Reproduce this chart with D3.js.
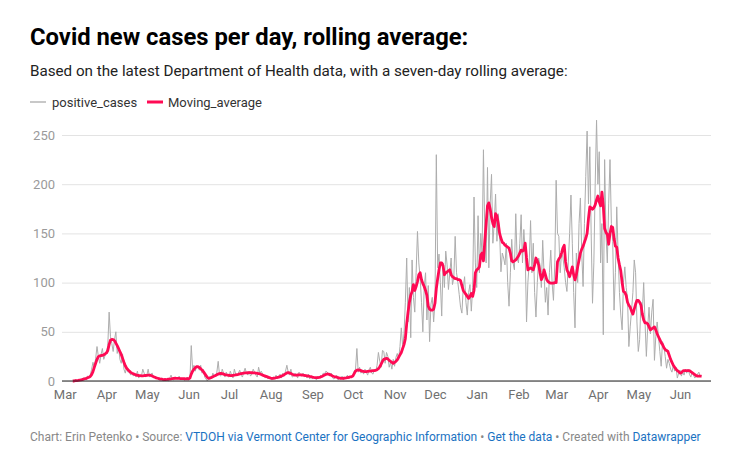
<!DOCTYPE html>
<html>
<head>
<meta charset="utf-8">
<script src="https://cdn.jsdelivr.net/npm/d3@7"></script>
<style>
  body { margin: 0; background: #fff; }
  svg { font-family: Roboto, "Noto Sans", sans-serif; }
</style>
</head>
<body>
<div id="viz"></div>
<script>
// one value per day, starting on firstDay
const firstDay = "2020-03-07"

const positiveCases = [
  1,0,2,0,1,1,2,2,3,3,1,5,4,6,12,19,14,23,35,25,18,27,33,22,26,
  29,36,70,45,38,30,42,50,28,35,22,18,27,12,8,14,9,10,6,8,5,7,4,10,3,6,5,12,8,4,
  6,12,4,7,8,3,5,2,4,1,2,3,0,1,2,1,0,3,6,2,1,4,3,2,5,1,3,2,1,2,4,
  1,2,36,12,16,10,15,14,11,16,8,12,4,2,0,3,5,2,8,6,4,9,20,6,5,12,8,4,9,5,
  4,10,6,3,12,7,5,8,11,6,4,9,13,8,6,10,5,7,12,9,6,4,14,8,10,7,5,3,6,2,4,
  2,1,4,3,6,2,5,7,3,8,5,10,16,9,6,12,4,5,8,6,3,9,7,5,8,4,6,3,7,2,5,
  2,4,3,1,5,3,6,4,8,7,10,9,6,5,8,3,2,4,6,1,3,2,5,1,4,3,6,2,5,4,
  6,10,12,33,9,14,8,10,7,12,9,6,11,14,8,7,12,10,16,29,20,14,31,30,18,29,25,14,19,12,22,
  15,24,28,22,35,54,35,48,80,125,60,95,44,123,85,70,110,152,120,105,80,50,95,110,62,97,40,78,85,60,
  80,230,115,129,100,66,120,95,132,118,93,110,125,98,105,147,110,100,88,75,69,95,106,80,67,90,98,71,95,187,120,
  95,168,110,150,130,235,150,120,217,115,180,210,140,160,190,142,170,150,111,130,125,118,140,100,76,110,144,120,113,170,125,
  120,140,169,120,154,130,60,100,120,163,110,140,90,65,100,125,118,95,143,110,80,95,67,110,133,100,82,120,
  204,150,147,110,130,126,115,100,91,120,150,189,140,90,54,130,100,160,186,130,96,160,208,254,180,238,150,79,120,200,265,
  200,233,120,160,47,225,150,120,180,225,160,142,72,110,177,130,90,67,52,100,116,95,84,35,55,72,90,123,110,60,
  30,42,80,70,100,60,25,55,75,48,70,83,21,45,60,45,30,15,40,35,25,13,22,18,12,9,16,10,14,3,8,
  11,5,9,6,12,8,12,7,4,9,6,3,5,7,9,4,6
]

const movingAverage = [
  0,0,0.3,0.4,0.6,0.9,1.1,1.4,1.9,2.3,2.7,3.3,3.9,4.6,6.5,9.5,14,18,22,24.7,25.6,25.9,26,26.7,27.5,
  28.5,31,37,41.5,42.3,42,41,38.5,36,33,30,27,23,19,15.5,13,11.5,10,8.8,8,7.3,6.7,6.2,5.8,5.6,5.5,5.3,5.2,5.4,5.6,
  5.8,6,6,5.7,5,4.4,3.8,3.2,2.8,2.4,2,1.8,1.6,1.5,1.5,1.6,1.8,2,2.2,2.5,2.7,2.8,2.7,2.6,2.6,2.5,2.5,2.4,2.3,2.2,2.3,
  2.3,3,7,10,12,13.5,14.5,14.6,13.8,12.5,11,9.5,7.5,5.5,3.5,2.7,3,3.5,4.2,5,5.6,6.3,7,7.6,7.8,7.5,7,6.5,6.2,6,
  5.8,5.6,5.5,5.8,6,6.2,6.5,6.8,7.2,7.5,7.8,8,8.2,8.3,8.4,8.5,8.5,8.4,8.3,8.2,8,7.8,7.6,7.2,6.6,6,5.4,4.9,4.4,3.9,3.4,
  3,2.7,2.8,3,3.3,3.6,4,4.5,5,5.6,6.4,7.3,8.2,8.5,8.2,7.5,6.8,6.3,6,6,6.1,6.2,6.2,6.1,6,5.8,5.5,5.2,4.9,4.6,4.4,
  4,3.7,3.5,3.4,3.4,3.6,4,4.6,5.3,6,6.7,7.1,7,6.5,5.8,5.1,4.6,4.2,3.8,3.4,3,2.8,2.7,2.8,3,3.2,3.5,3.8,4.1,4.3,
  5,7.5,10,11,11.2,11,10.5,10,9.7,9.5,9.5,9.8,10,10,10.3,10.5,10.6,10.8,11.5,12.5,14.5,17,20,22,22.5,23,22.5,21,20,19,18,
  19,20,21.5,24,26.5,29,33,37,43,58,70,80,87,91,98,92,96,101,108,110,103,99,96,92,87,76,73,72,72,73,
  79,94,104,113,120,120,117,108,110,111,112,113,108,106,105,104,104,103,103,102,97,92,90,88,86,84,86,89,86,92,110,
  113,114,116,128,130,122,142,160,178,181,175,166,160,157,170,168,160,150,145,141,140,138,137,136,135,130,122,121,122,123,125,
  127,130,133,132,133,140,125,113,114,115,114,113,118,125,122,118,110,103,106,113,108,103,101,100,99.5,99.5,99.5,100,
  100,121,124,126,130,135,138,121,113,110,106,111,116,108,102.7,108,116,123,130,134,137,141,145,150,165,177,176,174.6,176,179,184,
  188,182,178,192,178,155,151,149,139,150,157,156,145,137,136,125,118,112,100,91,90,87,80,77,75,71,68,73,78,82,
  82,80,77,68,62,59,59,58,55,52,53,54,55,52,48,45,42,39,37,34,32,31,30,26,22,19,16,14,12,10.5,9.5,
  8,8.5,10,10.5,10.5,10.5,10.5,10.5,9.5,8.5,7.5,6.5,5.5,5,5,5,5
]

const seriesNames = ["positive_cases", "Moving_average"]
const yTicks = [0, 50, 100, 150, 200, 250]

const width = 746
const height = 461
const margin = { top: 135, right: 35, bottom: 80, left: 62 }

const svg = d3.select("#viz").append("svg")
  .attr("width", width)
  .attr("height", height)

const start = d3.utcParse("%Y-%m-%d")(firstDay)
const day = i => d3.utcDay.offset(start, i)

const x = d3.scaleUtc()
  .domain([new Date(Date.UTC(2020, 1, 28)), new Date(Date.UTC(2021, 5, 24))])
  .range([margin.left, width - margin.right])

const y = d3.scaleLinear()
  .domain([0, 250])
  .range([height - margin.bottom, margin.top])

// title block
svg.append("text")
  .attr("x", 30).attr("y", 45)
  .attr("font-size", 23.8).attr("font-weight", 700).attr("fill", "#000")
  .text("Covid new cases per day, rolling average:")

svg.append("text")
  .attr("x", 30).attr("y", 76)
  .attr("font-size", 15.2).attr("fill", "#222")
  .text("Based on the latest Department of Health data, with a seven-day rolling average:")

// legend
const legend = svg.append("g").attr("transform", "translate(30,102)")
legend.append("line").attr("x1", 0).attr("x2", 16)
  .attr("stroke", "#c8c8c8").attr("stroke-width", 2)
legend.append("text").attr("x", 22).attr("dy", "0.35em")
  .attr("font-size", 13).attr("fill", "#333").text(seriesNames[0])
legend.append("line").attr("x1", 117).attr("x2", 133)
  .attr("stroke", "#ff0a54").attr("stroke-width", 3)
legend.append("text").attr("x", 138).attr("dy", "0.35em")
  .attr("font-size", 13).attr("fill", "#333").text(seriesNames[1])

// y grid + labels
const yAxis = svg.append("g")
  .attr("transform", `translate(${margin.left},0)`)
  .call(d3.axisLeft(y).tickValues(yTicks).tickSize(-(width - margin.left - margin.right)).tickPadding(7))
yAxis.select(".domain").remove()
yAxis.selectAll(".tick line").attr("stroke", "#e3e3e3")
yAxis.selectAll(".tick text").attr("fill", "#9a9a9a").attr("font-size", 13)
  .attr("font-family", "Roboto, sans-serif")

// x axis
const xAxis = svg.append("g")
  .attr("transform", `translate(0,${height - margin.bottom})`)
  .call(d3.axisBottom(x).ticks(d3.utcMonth.every(1)).tickFormat(d3.utcFormat("%b")).tickSize(0).tickPadding(9))
xAxis.select(".domain").remove()
xAxis.selectAll(".tick text").attr("fill", "#707070").attr("font-size", 13)
  .attr("font-family", "Roboto, sans-serif")

const line = d3.line()
  .x((d, i) => x(day(i)))
  .y(d => y(d))

svg.append("path")
  .datum(positiveCases)
  .attr("fill", "none")
  .attr("stroke", "#adadad")
  .attr("stroke-width", 1)
  .attr("d", line)

svg.append("path")
  .datum(movingAverage)
  .attr("fill", "none")
  .attr("stroke", "#ff0a54")
  .attr("stroke-width", 2.8)
  .attr("stroke-linejoin", "round")
  .attr("d", line)

// baseline on top
svg.append("line")
  .attr("x1", margin.left).attr("x2", width - margin.right)
  .attr("y1", y(0)).attr("y2", y(0))
  .attr("stroke", "#222").attr("stroke-width", 1.2)

// footer
const footer = svg.append("text")
  .attr("x", 30).attr("y", 441)
  .attr("font-size", 12).attr("fill", "#888")
const parts = [
  ["Chart: Erin Petenko • Source: ", "#888"],
  ["VTDOH via Vermont Center for Geographic Information", "#1a72c2"],
  [" • ", "#888"],
  ["Get the data", "#1a72c2"],
  [" • Created with ", "#888"],
  ["Datawrapper", "#1a72c2"]
]
footer.selectAll("tspan").data(parts).enter().append("tspan")
  .attr("fill", d => d[1])
  .text(d => d[0])
</script>
</body>
</html>
